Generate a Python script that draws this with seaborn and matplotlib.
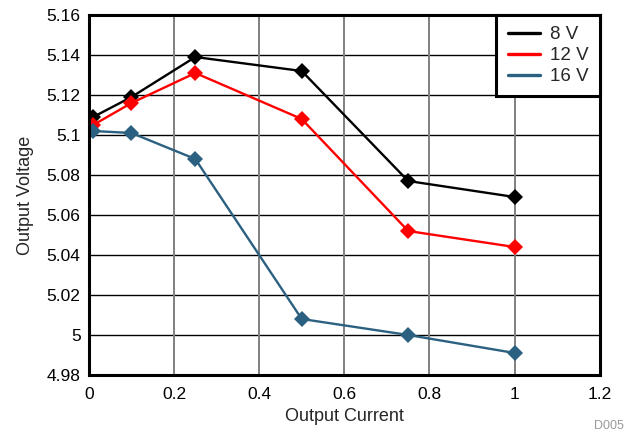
import matplotlib
matplotlib.use("Agg")
import matplotlib.pyplot as plt
import seaborn as sns
import pandas as pd

current = [0.01, 0.1, 0.25, 0.5, 0.75, 1.0]
v8 = [5.109, 5.119, 5.139, 5.132, 5.077, 5.069]
v12 = [5.105, 5.116, 5.131, 5.108, 5.052, 5.044]
v16 = [5.102, 5.101, 5.088, 5.008, 5.000, 4.991]
series_names = ["8 V", "12 V", "16 V"]
colors = ["#000000", "#FF0000", "#2B6080"]
xticks = [0, 0.2, 0.4, 0.6, 0.8, 1, 1.2]
yticks = [4.98, 5.0, 5.02, 5.04, 5.06, 5.08, 5.1, 5.12, 5.14, 5.16]
ytick_labels = ["4.98", "5", "5.02", "5.04", "5.06", "5.08", "5.1", "5.12", "5.14", "5.16"]

rows = []
for name, vals in zip(series_names, [v8, v12, v16]):
    for c, v in zip(current, vals):
        rows.append({"Output Current": c, "Output Voltage": v, "Series": name})
df = pd.DataFrame(rows)

sns.set_style("white")
plt.rcParams["font.family"] = ["Liberation Sans", "DejaVu Sans"]

fig = plt.figure(figsize=(6.26, 4.34), dpi=100)
ax = fig.add_axes([0.142, 0.136, 0.816, 0.8294])

sns.lineplot(data=df, x="Output Current", y="Output Voltage", hue="Series",
             hue_order=series_names, palette=colors, marker="D", markersize=8.5,
             markeredgewidth=0, linewidth=1.7, ax=ax)

ax.set_xlim(0, 1.2)
ax.set_ylim(4.98, 5.16)
ax.set_xticks(xticks)
ax.set_xticklabels([("%g" % t) for t in xticks])
ax.set_yticks(yticks)
ax.set_yticklabels(ytick_labels)
ax.tick_params(axis="both", labelsize=12.5, length=0, colors="black")
ax.tick_params(axis="x", pad=9)
ax.tick_params(axis="y", pad=6)

for y in yticks[1:-1]:
    ax.axhline(y, color="black", linewidth=1.0, zorder=0)
for x in xticks[1:-1]:
    ax.axvline(x, color="#808080", linewidth=1.4, zorder=0)

for s in ax.spines.values():
    s.set_visible(True)
    s.set_color("black")
    s.set_linewidth(2.2)

ax.set_xlabel("Output Current", fontsize=13, labelpad=4)
ax.set_ylabel("Output Voltage", fontsize=13, labelpad=9)

leg = ax.legend(title=None, loc="upper right", fontsize=13.5, frameon=True,
                fancybox=False, borderpad=0.6, handlelength=1.7,
                handletextpad=0.55, labelspacing=0.2, borderaxespad=0.0)
for h in leg.legend_handles:
    h.set_marker("")
    h.set_linewidth(2.4)
leg.get_frame().set_edgecolor("black")
leg.get_frame().set_linewidth(2.2)
leg.get_frame().set_alpha(1)

fig.text(0.997, 0.005, "D005", fontsize=9, color="#999999", ha="right", va="bottom")

fig.savefig("out.png", dpi=100)
